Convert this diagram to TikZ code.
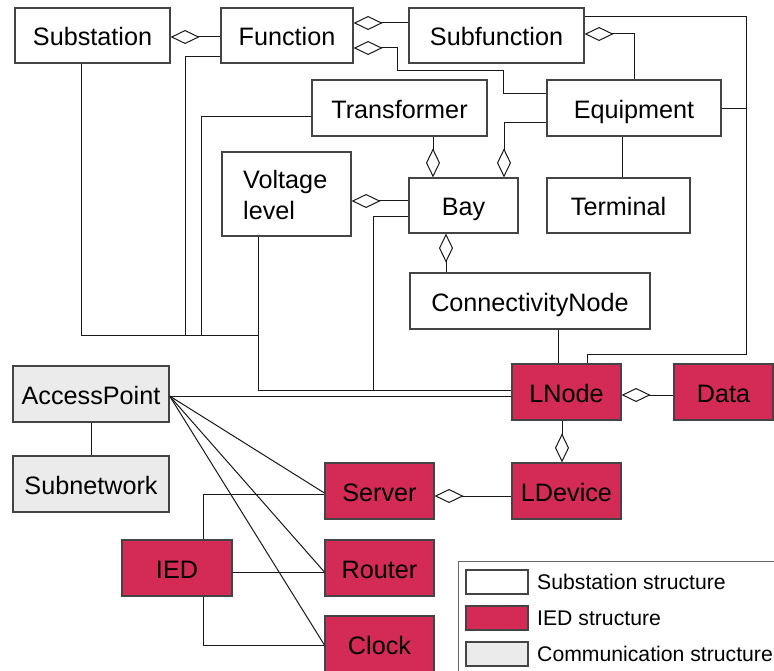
\documentclass[tikz,border=0pt]{standalone}
\usepackage{fontspec}
\setmainfont{Liberation Sans}
\usetikzlibrary{arrows.meta}
\definecolor{iedred}{HTML}{D42A56}
\definecolor{commgray}{HTML}{EBEBEB}
\definecolor{boxline}{HTML}{444444}
\begin{document}
\begin{tikzpicture}[x=1pt,y=-1pt,
  box/.style={draw=boxline,line width=1.2pt,fill=white,inner sep=0pt,
    text height=24pt,text depth=3pt,
    font=\fontsize{25.2}{30}\selectfont},
  wbox/.style={box},
  rbox/.style={box,fill=iedred},
  gbox/.style={box,fill=commgray},
  conn/.style={line width=1pt,draw=black!90},
  aggs/.style={conn,{Diamond[fill=white,length=29pt,width=14pt]}-},
  legtext/.style={anchor=west,inner sep=0pt,font=\fontsize{21.2}{25}\selectfont}
]
\useasboundingbox (0,0) rectangle (774,671);

% ---- nodes ----
\node[wbox,minimum width=155pt,minimum height=55pt] (Substation) at (92.5,35.5) {Substation};
\node[wbox,minimum width=132pt,minimum height=55pt] (Function) at (287,35.5) {Function};
\node[wbox,minimum width=175pt,minimum height=55pt] (Subfunction) at (496.5,35.5) {Subfunction};
\node[wbox,minimum width=175pt,minimum height=56pt] (Transformer) at (399.5,108) {Transformer};
\node[wbox,minimum width=174pt,minimum height=56pt] (Equipment) at (634,108) {Equipment};
\node[wbox,minimum width=129pt,minimum height=84pt,text height=,text depth=] (VoltageLevel) at (286.5,194) {};
\node[anchor=west,align=left,inner sep=0pt,font=\fontsize{25.2}{31}\selectfont] (VLtext) at (243,195) {Voltage\\level};
\node[wbox,minimum width=109pt,minimum height=55pt] (Bay) at (463.5,205.5) {Bay};
\node[wbox,minimum width=143pt,minimum height=55pt] (Terminal) at (618.5,205.5) {Terminal};
\node[wbox,minimum width=240pt,minimum height=56pt] (ConnectivityNode) at (530,301) {ConnectivityNode};
\node[rbox,minimum width=109pt,minimum height=56pt] (LNode) at (566.5,392) {LNode};
\node[rbox,minimum width=99pt,minimum height=56pt] (Data) at (723.5,392) {Data};
\node[rbox,minimum width=109pt,minimum height=56pt] (LDevice) at (566.5,491) {LDevice};
\node[rbox,minimum width=109pt,minimum height=56pt] (Server) at (379.5,491) {Server};
\node[gbox,minimum width=156pt,minimum height=56pt] (AccessPoint) at (91,394) {AccessPoint};
\node[gbox,minimum width=156pt,minimum height=56pt] (Subnetwork) at (91,484) {Subnetwork};
\node[rbox,minimum width=110pt,minimum height=56pt] (IED) at (177,568) {IED};
\node[rbox,minimum width=109pt,minimum height=56pt] (Router) at (379.5,568) {Router};
\node[rbox,minimum width=109pt,minimum height=56pt] (Clock) at (379.5,644) {Clock};

% ---- connectors ----
\draw[aggs] (Substation.east |- 0,37) -- (Function.west |- 0,37);
\draw[aggs] (Function.east |- 0,23) -- (Subfunction.west |- 0,23);
\draw[aggs] (Function.east |- 0,48) -- (397,48) -- (397,71) -- (503,71) -- (503,94) -- (Equipment.west |- 0,94);
\draw[aggs] (Subfunction.east |- 0,34) -| (Equipment.north);
\coordinate (rjoin) at (746,109);
\draw[conn] (Subfunction.east |- 0,17) -| (746,354) -| (LNode.north -| 587,0);
\draw[conn] (Equipment.east |- rjoin) -- (rjoin);
\draw[conn] (Equipment.south -| 622,0) -- (Terminal.north -| 622,0);
\draw[aggs] (Bay.north -| 433,0) -- (Transformer.south -| 433,0);
\draw[aggs] (Bay.north -| 504,0) -- (504,123) -- (Equipment.west |- 0,123);
\draw[aggs] (VoltageLevel.east |- 0,201) -- (Bay.west |- 0,201);
\draw[aggs] (Bay.south -| 446,0) -- (ConnectivityNode.north -| 446,0);
\draw[conn] (ConnectivityNode.south -| 558,0) -- (LNode.north -| 558,0);
\draw[aggs] (LNode.east |- 0,395) -- (Data.west |- 0,395);
\draw[aggs] (LDevice.north -| 562,0) -- (LNode.south -| 562,0);
\draw[aggs] (Server.east |- 0,496) -- (LDevice.west |- 0,496);

% left bus to LNode
\coordinate (bus) at (258,335);
\draw[conn] (Substation.south -| 81,0) |- (bus);
\draw[conn] (Function.west |- 0,57) -| (185,335);
\draw[conn] (Transformer.west |- 0,117) -| (201,335);
\draw[conn] (VoltageLevel.south -| 258,0) -- (258,390) -- (LNode.west |- 0,390);
\draw[conn] (Bay.west |- 0,217) -| (373,390);

% communication
\draw[conn] (AccessPoint) -- (Subnetwork);
\coordinate (ap) at (AccessPoint.east |- 0,396);
\draw[conn] (ap) -- (LNode.west |- 0,396);
\draw[conn] (ap) -- (Server.west |- 0,493);
\draw[conn] (ap) -- (Router.west |- 0,572);
\draw[conn] (ap) -- (Clock.west |- 0,645);
\draw[conn] (IED.north -| 203,0) |- (Server.west |- 0,494);
\draw[conn] (IED.east |- 0,572) -- (Router.west |- 0,572);
\draw[conn] (IED.south -| 203,0) |- (Clock.west |- 0,645);

% ---- legend ----
\node[draw=black!60,line width=1pt,minimum width=318pt,minimum height=112pt,inner sep=0pt] (legend) at (617,617) {};
\node[draw=boxline,line width=1.2pt,fill=white,minimum width=62pt,minimum height=24pt,inner sep=0pt] (sw1) at (497,582) {};
\node[draw=boxline,line width=1.2pt,fill=iedred,minimum width=62pt,minimum height=24pt,inner sep=0pt] (sw2) at (497,618) {};
\node[draw=boxline,line width=1.2pt,fill=commgray,minimum width=62pt,minimum height=24pt,inner sep=0pt] (sw3) at (497,654) {};
\node[legtext] (lt1) at (537,582) {Substation structure};
\node[legtext] (lt2) at (537,618) {IED structure};
\node[legtext] (lt3) at (537,654) {Communication structure};
\end{tikzpicture}
\end{document}
